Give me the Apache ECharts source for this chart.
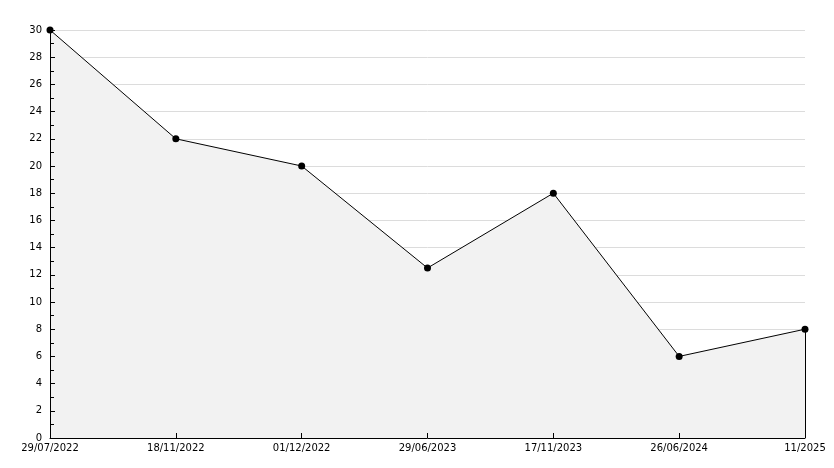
<!DOCTYPE html>
<html>
<head>
<meta charset="utf-8">
<script src="https://cdn.jsdelivr.net/npm/echarts@6/dist/echarts.min.js"></script>
<style>html,body{margin:0;padding:0;background:#fff}#c{width:834px;height:468px}</style>
</head>
<body>
<div id="c"></div>
<script>
const categories = ['29/07/2022','18/11/2022','01/12/2022','29/06/2023','17/11/2023','26/06/2024','11/2025'];
const values = [30, 22, 20, 12.5, 18, 6, 8];
const yMin = 0, yMax = 30, yInterval = 2;

const chart = echarts.init(document.getElementById('c'), null, {renderer:'canvas'});
const font = 'DejaVu Sans';
const baseX = {
  type: 'category', data: categories, boundaryGap: false, position: 'bottom'
};
const baseY = {
  type: 'value', min: yMin, max: yMax, interval: yInterval, position: 'left'
};
chart.setOption({
  animation: false,
  backgroundColor: '#fff',
  grid: {left: 50, right: 29, top: 30, bottom: 30, containLabel: false},
  xAxis: [
    Object.assign({}, baseX, {
      z: 0,
      axisLine: {show: false}, axisTick: {show: false}, axisLabel: {show: false},
      splitLine: {show: false}
    }),
    Object.assign({}, baseX, {
      z: 10,
      axisLine: {show: true, onZero: false, lineStyle: {color: '#000', width: 1}},
      axisTick: {show: true, inside: true, length: 5, alignWithLabel: true, lineStyle: {color: '#000'}},
      axisLabel: {color: '#000', fontFamily: font, fontSize: 10, margin: 5, interval: 0, showMaxLabel: true, showMinLabel: true},
      splitLine: {show: false}
    })
  ],
  yAxis: [
    Object.assign({}, baseY, {
      z: 0,
      axisLine: {show: false}, axisTick: {show: false}, axisLabel: {show: false},
      splitLine: {show: true, lineStyle: {color: '#dcdcdc', width: 1}}
    }),
    Object.assign({}, baseY, {
      z: 10,
      offset: 0,
      axisLine: {show: true, onZero: false, lineStyle: {color: '#000', width: 1}},
      axisTick: {show: true, inside: true, length: 5, lineStyle: {color: '#000'}},
      minorTick: {show: true, splitNumber: 2, length: 4, lineStyle: {color: '#000'}},
      axisLabel: {color: '#000', fontFamily: font, fontSize: 10, margin: 8},
      splitLine: {show: false}
    })
  ],
  series: [{
    type: 'line',
    xAxisIndex: 0, yAxisIndex: 0,
    data: values,
    symbol: 'circle',
    symbolSize: 7,
    itemStyle: {color: '#000'},
    lineStyle: {color: '#000', width: 1},
    areaStyle: {color: '#f2f2f2', opacity: 1},
    markLine: {
      silent: true,
      symbol: ['none','none'],
      label: {show: false},
      lineStyle: {color: '#000', width: 1, type: 'solid'},
      data: [[
        {coord: [categories.length - 1, values[values.length - 1]]},
        {coord: [categories.length - 1, yMin]}
      ]]
    }
  }]
});
</script>
</body>
</html>
